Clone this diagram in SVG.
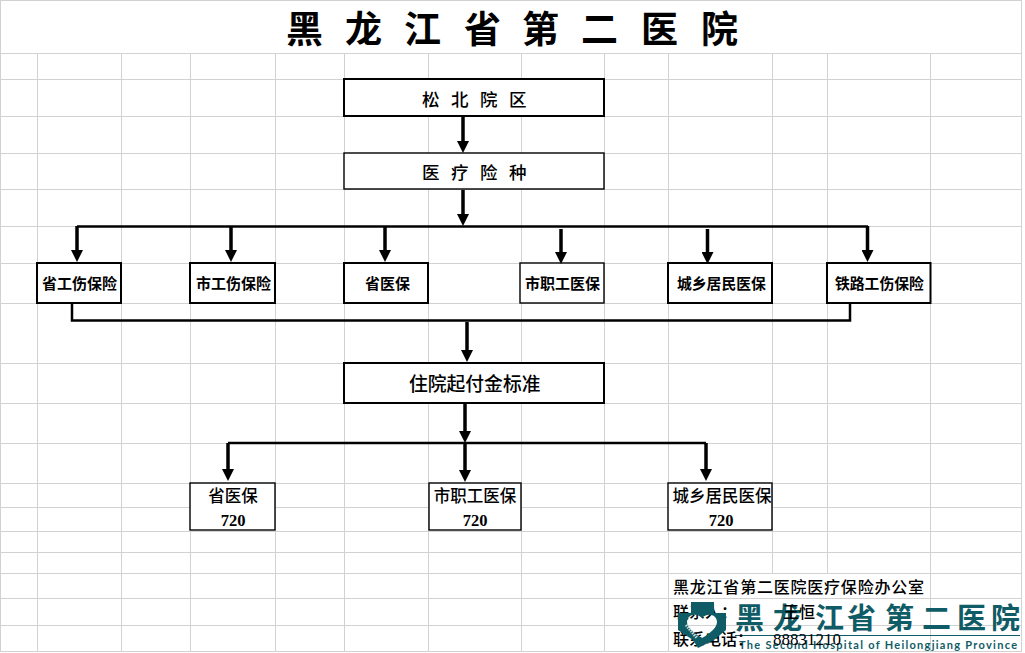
<svg xmlns="http://www.w3.org/2000/svg" width="1025" height="653" viewBox="0 0 1025 653">
<style>
.grid line{stroke:#d2d2d2;stroke-width:1;fill:none}
text{font-family:"Noto Sans CJK SC","Liberation Sans",sans-serif;fill:#000;font-weight:700}
.box{fill:#fff;stroke:#000}
.b2{stroke-width:2}.b1{stroke-width:1.4}
.ctr{text-anchor:middle}
.c{stroke:#000;fill:none;stroke-width:2.5}
.a{stroke-width:3.5;marker-end:url(#head)}
.foot{font-size:16px;font-weight:500;font-family:"Noto Sans CJK SC",sans-serif}
.num{font-family:"Liberation Serif",serif;font-weight:700;font-size:16.5px}
</style>
<defs>
<marker id="head" markerUnits="userSpaceOnUse" markerWidth="12" markerHeight="12" refX="0" refY="6" orient="auto" viewBox="0 0 12 12"><path d="M0 0L12 6L0 12Z" fill="#000"/></marker>
</defs>
<rect width="1025" height="653" fill="#fff"/>
<g id="grid" class="grid">
<line x1="0" y1="0.5" x2="1021" y2="0.5"/>
<line x1="0" y1="53.5" x2="1021" y2="53.5"/>
<line x1="0" y1="79.5" x2="1021" y2="79.5"/>
<line x1="0" y1="116.5" x2="1021" y2="116.5"/>
<line x1="0" y1="153.5" x2="1021" y2="153.5"/>
<line x1="0" y1="189.5" x2="1021" y2="189.5"/>
<line x1="0" y1="226.5" x2="1021" y2="226.5"/>
<line x1="0" y1="263.5" x2="1021" y2="263.5"/>
<line x1="0" y1="303.5" x2="1021" y2="303.5"/>
<line x1="0" y1="363.5" x2="1021" y2="363.5"/>
<line x1="0" y1="403.5" x2="1021" y2="403.5"/>
<line x1="0" y1="443.5" x2="1021" y2="443.5"/>
<line x1="0" y1="483.5" x2="1021" y2="483.5"/>
<line x1="0" y1="507.5" x2="1021" y2="507.5"/>
<line x1="0" y1="531.5" x2="1021" y2="531.5"/>
<line x1="0" y1="552.5" x2="1021" y2="552.5"/>
<line x1="0" y1="573.5" x2="1021" y2="573.5"/>
<line x1="0" y1="598.5" x2="1021" y2="598.5"/>
<line x1="0" y1="625.5" x2="1021" y2="625.5"/>
<line x1="0" y1="651.5" x2="1021" y2="651.5"/>
<line x1="0.5" y1="0" x2="0.5" y2="652"/>
<line x1="1021.5" y1="0" x2="1021.5" y2="652"/>
<line x1="37.5" y1="53" x2="37.5" y2="652"/>
<line x1="121.5" y1="53" x2="121.5" y2="652"/>
<line x1="190.5" y1="53" x2="190.5" y2="652"/>
<line x1="275.5" y1="53" x2="275.5" y2="652"/>
<line x1="344.5" y1="53" x2="344.5" y2="652"/>
<line x1="428.5" y1="53" x2="428.5" y2="652"/>
<line x1="521.5" y1="53" x2="521.5" y2="652"/>
<line x1="604.5" y1="53" x2="604.5" y2="652"/>
<line x1="668.5" y1="53" x2="668.5" y2="652"/>
<line x1="772.5" y1="53" x2="772.5" y2="573"/>
<line x1="827.5" y1="53" x2="827.5" y2="573"/>
<line x1="930.5" y1="53" x2="930.5" y2="652"/>
</g>
<g id="title"><text x="286 345 404 464 522 581 641 701" y="43" font-size="37">黑龙江省第二医院</text></g>
<g id="node-songbei"><rect class="box b2" x="344" y="79" width="260" height="37"/><text x="422 451 480 509" y="106" font-size="17.5" style="font-weight:500">松北院区</text></g>
<g id="node-types"><rect class="box b1" x="344" y="153" width="260" height="36"/><text x="422 451 480 509" y="179" font-size="17.5" style="font-weight:500">医疗险种</text></g>
<g id="node-sgs"><rect class="box b2" x="37" y="263" width="84" height="40"/><text x="42" y="289" font-size="15">省工伤保险</text></g>
<g id="node-cgs"><rect class="box b2" x="190" y="263" width="85" height="40"/><text x="196" y="289" font-size="15">市工伤保险</text></g>
<g id="node-syb"><rect class="box b2" x="344" y="263" width="84" height="40"/><text x="365" y="289" font-size="15">省医保</text></g>
<g id="node-czg"><rect class="box b1" x="520" y="263" width="84" height="40"/><text x="525" y="289" font-size="15">市职工医保</text></g>
<g id="node-cxjm"><rect class="box b2" x="668" y="263" width="104" height="40"/><text x="677" y="289" font-size="14.8">城乡居民医保</text></g>
<g id="node-tlgs"><rect class="box b2" x="827" y="263" width="103.5" height="40"/><text x="835" y="289" font-size="14.8">铁路工伤保险</text></g>
<g id="node-threshold"><rect class="box b2" x="344" y="363" width="260" height="40"/><text x="409" y="391" font-size="18.8" style="font-weight:500">住院起付金标准</text></g>
<g id="node-a"><rect class="box b1" x="190" y="483" width="85" height="47"/><text class="ctr" x="233" y="502" font-size="16.5" style="font-weight:500">省医保</text><text class="ctr num" x="233" y="526">720</text></g>
<g id="node-b"><rect class="box b1" x="429" y="483" width="92" height="47"/><text class="ctr" x="475" y="502" font-size="16.5" style="font-weight:500">市职工医保</text><text class="ctr num" x="475" y="526">720</text></g>
<g id="node-c"><rect class="box b1" x="668" y="483" width="104" height="47"/><text class="ctr" x="722" y="502" font-size="16.5" style="font-weight:500">城乡居民医保</text><text class="ctr num" x="721" y="526">720</text></g>
<g id="connectors">
<line class="c a" x1="463" y1="117" x2="463" y2="141"/>
<line class="c a" x1="463" y1="190" x2="463" y2="214"/>
<path class="c" d="M77 226.5H868"/>
<line class="c a" x1="77" y1="226" x2="77" y2="250"/>
<line class="c a" x1="231" y1="226" x2="231" y2="250"/>
<line class="c a" x1="385" y1="226" x2="385" y2="250"/>
<line class="c a" x1="561" y1="229" x2="561" y2="252"/>
<line class="c a" x1="707.5" y1="229" x2="707.5" y2="252"/>
<line class="c a" x1="867.5" y1="226" x2="867.5" y2="250"/>
<path class="c" d="M72 304V320.5H850V304"/>
<line class="c a" x1="467" y1="322" x2="467" y2="350"/>
<line class="c a" x1="465" y1="404" x2="465" y2="431"/>
<path class="c" d="M228 443H706"/>
<line class="c a" x1="228" y1="443" x2="228" y2="469"/>
<line class="c a" x1="465" y1="443" x2="465" y2="470"/>
<line class="c a" x1="706" y1="443" x2="706" y2="469"/>
</g>
<g id="logo-text">
<text x="735 773 815 847 885 922 957 991" y="629" font-size="29" style="fill:#0f5c66">黑龙江省第二医院</text>
<line x1="735" y1="635.5" x2="1020" y2="635.5" stroke="#0f5c66" stroke-width="1.2"/>
<text x="739" y="649" font-size="11" textLength="278" lengthAdjust="spacing" style="fill:#0f5c66;font-family:'Lato','Liberation Sans',sans-serif;font-weight:700">The Second Hospital of Heilongjiang Province</text>
</g>
<g id="footer">
<text class="foot" x="673" y="593" font-size="16.8" textLength="251">黑龙江省第二医院医疗保险办公室</text>
<text class="foot" x="673" y="618">联系人：</text>
<text class="foot" x="783" y="618">王恒</text>
<text class="foot" x="673" y="645">联系电话：</text>
<text class="num" x="773" y="645" style="font-weight:400;font-size:17px">88831210</text>
</g>
<g id="logo-mark">
<path fill-rule="evenodd" fill="#0f5c66" d="M691 602H714V613H726V630L714 640L698 648L693 640L678 630V613H691ZM702 618C696 612 687 615 687 622C687 628 695 634 702 638C709 634 717 628 717 622C717 615 708 612 702 618Z"/>
<path d="M686 625L697 638" stroke="#c9d6d6" stroke-width="3" stroke-dasharray="1.5 1"/>
</g>
</svg>
